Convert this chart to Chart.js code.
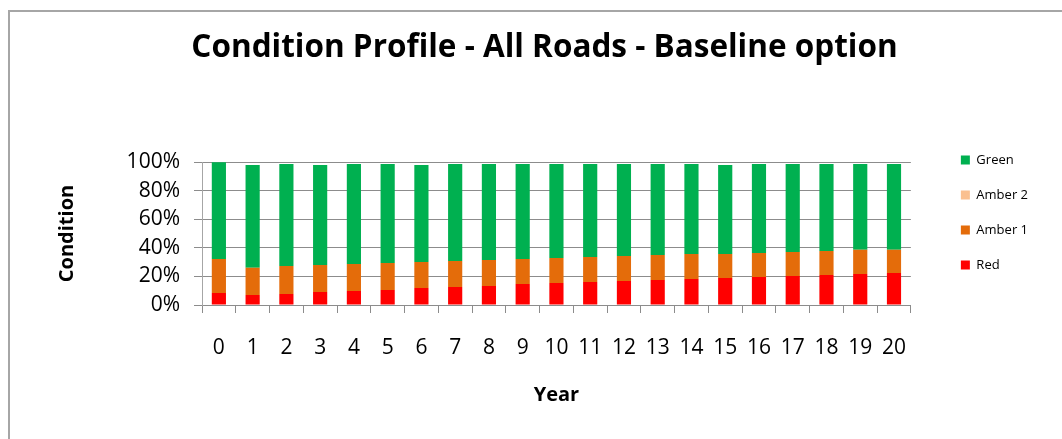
<!DOCTYPE html>
<html>
<head>
<meta charset="utf-8">
<script src="https://cdn.jsdelivr.net/npm/chart.js@4"></script>
<style>
  html, body { margin: 0; padding: 0; background: #fff; overflow: hidden; }
  #frame { position: absolute; left: 8px; top: 10px; width: 1100px; height: 500px; border: 2px solid #a6a6a6; }
  #chart { position: absolute; left: 0; top: 0; }
</style>
</head>
<body>
<div id="frame"></div>
<canvas id="chart" width="1062" height="439"></canvas>
<script>
const years = ['0','1','2','3','4','5','6','7','8','9','10','11','12','13','14','15','16','17','18','19','20'];
// percentages
const red    = [8.4, 7.0, 7.7, 9.1, 9.8, 10.5, 11.9, 12.6, 13.3, 14.7, 15.4, 16.1, 16.8, 17.5, 18.2, 18.9, 19.6, 20.3, 21.0, 21.7, 22.4];
const amber1 = [23.8, 19.1, 19.6, 18.9, 18.9, 18.9, 18.2, 18.2, 18.2, 17.5, 17.5, 17.5, 17.5, 17.5, 17.5, 16.8, 16.8, 16.8, 16.8, 17.0, 16.3];
const amber2 = [0, 0, 0, 0, 0, 0, 0, 0, 0, 0, 0, 0, 0, 0, 0, 0, 0, 0, 0, 0, 0];
const green  = [67.6, 71.8, 71.3, 69.9, 69.9, 69.2, 67.8, 67.8, 67.1, 66.4, 65.7, 65.0, 64.3, 63.6, 62.9, 62.2, 62.2, 61.5, 60.8, 59.9, 59.9];

const FONT = "'Open Sans', sans-serif";
const gridColor = '#8c8c8c';

new Chart(document.getElementById('chart'), {
  type: 'bar',
  data: {
    labels: years,
    datasets: [
      { label: 'Red', data: red, backgroundColor: '#ff0000' },
      { label: 'Amber 1', data: amber1, backgroundColor: '#e46c0a' },
      { label: 'Amber 2', data: amber2, backgroundColor: '#fac090' },
      { label: 'Green', data: green, backgroundColor: '#00b050' }
    ]
  },
  options: {
    responsive: false,
    animation: false,
    devicePixelRatio: 1,
    datasets: { bar: { barPercentage: 0.42, categoryPercentage: 1 } },
    layout: { padding: { left: 51, right: 24, top: 0, bottom: 14 } },
    plugins: {
      title: {
        display: true,
        text: 'Condition Profile - All Roads - Baseline option',
        color: '#000',
        font: { family: FONT, size: 31.5, weight: 'bold' },
        padding: { top: 29, bottom: 95.2 }
      },
      legend: {
        position: 'right',
        reverse: true,
        labels: {
          color: '#000',
          font: { family: FONT, size: 13 },
          boxWidth: 9,
          boxHeight: 9,
          padding: 22
        }
      },
      tooltip: { enabled: false }
    },
    scales: {
      x: {
        stacked: true,
        grid: { drawOnChartArea: false, drawTicks: true, tickLength: 8, color: gridColor },
        border: { color: gridColor },
        ticks: { color: '#000', font: { family: FONT, size: 21 }, padding: 22, maxRotation: 0, autoSkip: false },
        title: { display: true, text: 'Year', color: '#000', font: { family: FONT, size: 20, weight: 'bold' }, padding: { top: 4, bottom: 18 } },
        afterFit: (s) => { s.height = 120; }
      },
      y: {
        stacked: true,
        min: 0,
        max: 100,
        ticks: { stepSize: 20, color: '#000', font: { family: FONT, size: 21 }, padding: 14, callback: (v) => v + '%' },
        grid: { color: gridColor, tickLength: 8 },
        border: { color: '#a6a6a6' },
        title: { display: true, text: 'Condition', color: '#000', font: { family: FONT, size: 20, weight: 'bold' }, padding: { top: 4, bottom: 4 } },
        afterFit: (s) => { s.width = 151; }
      },
      gap: {
        position: 'right',
        display: true,
        grid: { display: false },
        border: { display: false },
        ticks: { display: false },
        afterFit: (s) => { s.width = 28; }
      }
    }
  }
});
</script>
</body>
</html>
